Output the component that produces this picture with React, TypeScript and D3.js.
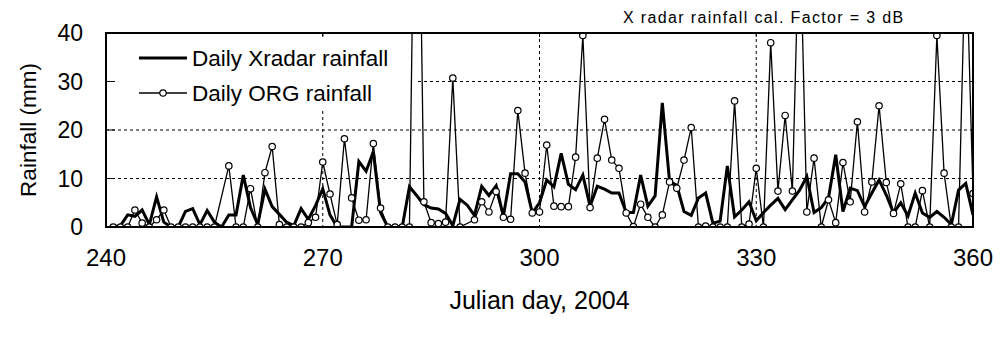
import React from 'react';
import * as d3 from 'd3';

// Julian days 241..360 (2004)
const START_DAY = 241;

const xradarRain: number[] = [
  0, 0.3, 2.5, 2.2, 3.5, 0.5, 6.2, 1, 0, 0,            // 241-250
  3.2, 3.8, 0.5, 3.4, 1, 0, 2.5, 2.5, 10.7, 4,         // 251-260
  0.5, 7.8, 4.2, 2.6, 1, 0.3, 3.8, 1.6, 4.4, 7.9,      // 261-270
  2.5, 0, 0, 0, 13.5, 11.5, 15.5, 3, 0, 0,             // 271-280
  0, 8.3, 6.5, 4.6, 3.9, 3.7, 2.8, 0.3, 5.7, 4.5,      // 281-290
  2.4, 8.4, 6.5, 8.5, 2.2, 11, 11, 9.3, 2.9, 5,        // 291-300
  9.7, 8.3, 15.2, 8.8, 7.7, 10.7, 4.3, 8.4, 7.8, 7,    // 301-310
  7, 3, 3, 10.7, 4.3, 6.4, 25.6, 9.4, 8.6, 3.2,        // 311-320
  2.4, 6, 7, 0.8, 1.2, 12.6, 2.1, 3.5, 5.2, 1.3,       // 321-330
  3, 4.5, 5.9, 3.6, 5.6, 7.6, 10.4, 3, 4, 6,           // 331-340
  14.9, 3.2, 8, 7.5, 4.2, 7, 9.7, 6.6, 2.9, 5,         // 341-350
  2.3, 7, 2.9, 2, 3.2, 2, 0.5, 7.6, 9, 2.5,            // 351-360
];

const orgRain: (number | null)[] = [
  0, 0, 0, 3.5, 0.8, 0, 1.5, 3.5, 0, 0,                // 241-250
  0, 0, 0, 0, 0, null, 12.6, 0, 0, 7.9,                // 251-260
  0, 11.2, 16.6, 0.5, 0, 0, 0, 0.9, 2, 13.4,           // 261-270
  6.8, 0.5, 18.2, 6, 1.4, 1.5, 17.2, 3.9, 0, 0,        // 271-280
  0, 0, 110, 5.2, 0.9, 0.7, 1, 30.7, 0, null,          // 281-290
  1.5, 5.2, 3.1, 7.3, 2, 1.6, 24, 11.1, 2.9, 3.1,      // 291-300
  16.9, 4.3, 4.2, 4.2, 14.4, 39.5, 4, 14.2, 22.2, 13.8,// 301-310
  12.1, 2.9, 0.1, 4.7, 2, 0, 2.5, 9.3, 8, 13.8,        // 311-320
  20.5, 0, 0.2, 0, 0, 0, 26, 0, 0.6, 12.1,             // 321-330
  0, 38, 7.4, 23, 7.4, 65, 3.1, 14.2, 0, 5.6,          // 331-340
  0.9, 13.3, 5.2, 21.7, 3.1, 9.3, 25, 9.2, 2.8, 8.9,   // 341-350
  0, 0, 7.5, 0, 39.5, 11.1, 0, 0, 60, 6.9,             // 351-360
];

const xTicks = [240, 270, 300, 330, 360];
const yTicks = [0, 10, 20, 30, 40];
const xGrid = [270, 300, 330];
const yGrid = [10, 20, 30];

const seriesNames = ['Daily Xradar rainfall', 'Daily ORG rainfall'];
const titleText = 'X radar rainfall cal. Factor = 3 dB';
const xTitle = 'Julian day, 2004';
const yTitle = 'Rainfall (mm)';

const FONT = '"Liberation Sans", Arial, Helvetica, sans-serif';

export default function App() {
  const W = 1000;
  const H = 341;
  const x = d3.scaleLinear().domain([240, 360]).range([106, 973]);
  const y = d3.scaleLinear().domain([0, 40]).range([227, 33]);
  const [x0, x1] = x.range();
  const [yb, yt] = y.range();

  type P = { d: number; v: number };
  const xr: P[] = xradarRain.map((v, i) => ({ d: START_DAY + i, v }));
  const org: P[] = orgRain
    .map((v, i) => ({ d: START_DAY + i, v: v as number }))
    .filter((p) => p.v !== null && p.v !== undefined);

  const line = d3
    .line<P>()
    .x((p) => x(p.d))
    .y((p) => y(p.v));

  return (
    <svg
      width={W}
      height={H}
      style={{ position: 'absolute', left: 0, top: 0, background: '#fff' }}
      fontFamily={FONT}
    >
      <defs>
        <clipPath id="plotClip">
          <rect x={x0} y={yt} width={x1 - x0} height={yb - yt} />
        </clipPath>
      </defs>
      <rect x={0} y={0} width={W} height={H} fill="#fff" />

      {/* gridlines */}
      {yGrid.map((t) => (
        <line key={'gy' + t} x1={x0} x2={x1} y1={y(t)} y2={y(t)} stroke="#000" strokeWidth={1} strokeDasharray="3,3" />
      ))}
      {xGrid.map((t) => (
        <line key={'gx' + t} x1={x(t)} x2={x(t)} y1={yt} y2={yb} stroke="#000" strokeWidth={1} strokeDasharray="3,3" />
      ))}

      {/* legend background */}
      <rect x={115} y={37} width={302} height={71} fill="#fff" />

      {/* ticks */}
      {yTicks.map((t) => (
        <line key={'ty' + t} x1={x0} x2={x0 + 9} y1={y(t)} y2={y(t)} stroke="#000" strokeWidth={1} />
      ))}
      {xTicks.map((t) => (
        <line key={'tx' + t} x1={x(t)} x2={x(t)} y1={yt} y2={yt + 4} stroke="#000" strokeWidth={1} />
      ))}

      {/* data */}
      <g clipPath="url(#plotClip)">
        <path d={line(xr) || ''} fill="none" stroke="#000" strokeWidth={3} />
        <path d={line(org) || ''} fill="none" stroke="#000" strokeWidth={1.3} />
        {org
          .filter((p) => p.v <= 40)
          .map((p) => (
            <circle key={'c' + p.d} cx={x(p.d)} cy={y(p.v)} r={3.2} fill="#fff" stroke="#000" strokeWidth={1.2} />
          ))}
      </g>

      {/* frame */}
      <rect x={x0} y={yt} width={x1 - x0} height={yb - yt} fill="none" stroke="#000" strokeWidth={2} />

      {/* legend */}
      <line x1={139} x2={187} y1={58} y2={58} stroke="#000" strokeWidth={3} />
      <text x={192} y={58} fontSize={22.5} dominantBaseline="central">{seriesNames[0]}</text>
      <line x1={139} x2={187} y1={93} y2={93} stroke="#000" strokeWidth={1.3} />
      <circle cx={163} cy={93} r={3.2} fill="#fff" stroke="#000" strokeWidth={1.2} />
      <text x={192} y={93} fontSize={22.5} dominantBaseline="central">{seriesNames[1]}</text>

      {/* y tick labels */}
      {yTicks.map((t) => (
        <text key={'ly' + t} x={83} y={y(t)} fontSize={23} textAnchor="end" dominantBaseline="central">
          {t}
        </text>
      ))}
      {/* x tick labels */}
      {xTicks.map((t) => (
        <text key={'lx' + t} x={x(t)} y={266} fontSize={24} textAnchor="middle">
          {t}
        </text>
      ))}

      {/* titles */}
      <text x={(x0 + x1) / 2} y={309} fontSize={25} textAnchor="middle">{xTitle}</text>
      <text transform={`translate(36,${(yt + yb) / 2}) rotate(-90)`} fontSize={22.5} textAnchor="middle">{yTitle}</text>
      <text x={623} y={23} fontSize={16} letterSpacing={1.35}>{titleText}</text>
    </svg>
  );
}
